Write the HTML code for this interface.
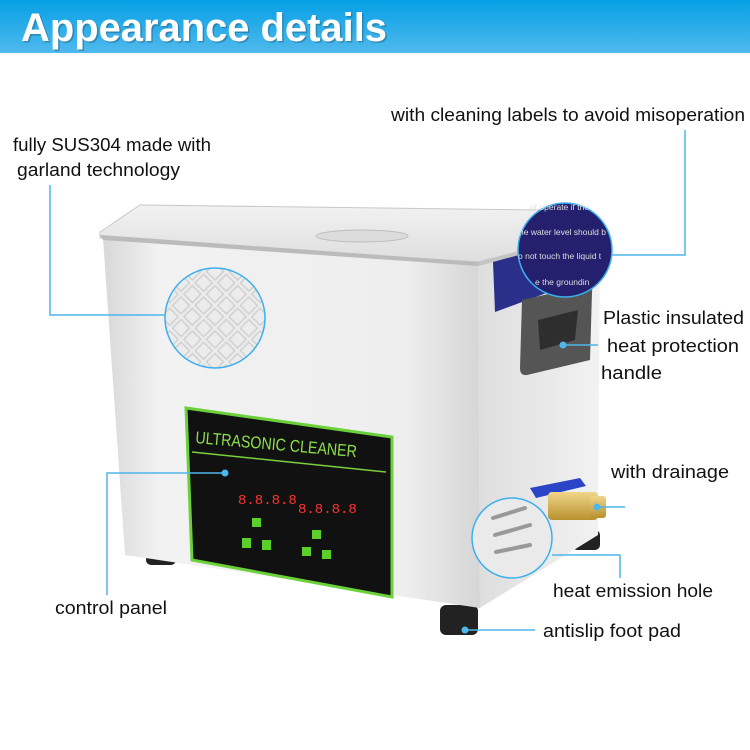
<!DOCTYPE html>
<html><head><meta charset="utf-8"><style>
html,body{margin:0;padding:0;background:#fff;}
svg{display:block;font-family:"Liberation Sans",sans-serif;}
</style></head><body>
<svg width="750" height="750" viewBox="0 0 750 750" xmlns="http://www.w3.org/2000/svg">
<defs>
<linearGradient id="hd" x1="0" y1="0" x2="0" y2="1"><stop offset="0" stop-color="#06a0e6"/><stop offset="1" stop-color="#4fb9ec"/></linearGradient>
<linearGradient id="front" x1="0" y1="0" x2="1" y2="0"><stop offset="0" stop-color="#d8d8d8"/><stop offset="0.15" stop-color="#f2f2f2"/><stop offset="0.8" stop-color="#eeeeee"/><stop offset="1" stop-color="#d6d6d6"/></linearGradient>
<linearGradient id="side" x1="0" y1="0" x2="1" y2="0"><stop offset="0" stop-color="#dedede"/><stop offset="1" stop-color="#f2f2f2"/></linearGradient>
<linearGradient id="lid" x1="0" y1="0" x2="0" y2="1"><stop offset="0" stop-color="#f2f2f2"/><stop offset="1" stop-color="#dedede"/></linearGradient>
<linearGradient id="brass" x1="0" y1="0" x2="0" y2="1"><stop offset="0" stop-color="#f0d68a"/><stop offset="1" stop-color="#b8912f"/></linearGradient>
<pattern id="dia" width="16" height="16" patternUnits="userSpaceOnUse" patternTransform="rotate(45)"><rect width="16" height="16" fill="#ececec"/><rect x="2" y="2" width="12" height="12" fill="none" stroke="#d0d0d0" stroke-width="1.5"/></pattern>
</defs>
<rect x="0" y="0" width="750" height="53" fill="url(#hd)"/>
<text x="21" y="41" font-size="40" font-weight="bold" fill="#2a5f80" opacity="0.5" transform="translate(1.5,1.5)" textLength="366" lengthAdjust="spacingAndGlyphs">Appearance details</text>
<text x="21" y="41" font-size="40" font-weight="bold" fill="#fff" textLength="366" lengthAdjust="spacingAndGlyphs">Appearance details</text>

<rect x="146" y="540" width="30" height="25" rx="5" fill="#222"/>
<rect x="440" y="605" width="38" height="30" rx="6" fill="#222"/>
<rect x="572" y="530" width="28" height="20" rx="5" fill="#222"/>
<polygon points="478,262 600,245 598,535 480,608" fill="url(#side)"/>
<polygon points="103,238 478,262 480,608 125,555" fill="url(#front)"/>
<polygon points="100,232 140,205 540,210 548,244 478,262 100,238" fill="url(#lid)" stroke="#c8c8c8"/>
<polygon points="100,235 478,262 478,266 103,240" fill="#bbb"/>
<polygon points="478,262 548,244 548,248 478,266" fill="#c4c4c4"/>
<ellipse cx="362" cy="236" rx="46" ry="6" fill="#dcdcdc" stroke="#bdbdbd"/>
<polygon points="493,262 530,252 560,288 495,312" fill="#2a2f8a"/>
<polygon points="186,408 392,437 392,597 192,560" fill="#111" stroke="#6ad13a" stroke-width="3"/>
<text x="195" y="443" font-size="17" fill="#8ee04a" transform="rotate(5 195 443)" textLength="162" lengthAdjust="spacingAndGlyphs">ULTRASONIC CLEANER</text>
<line x1="192" y1="452" x2="386" y2="472" stroke="#7ccf3c" stroke-width="1.5"/>
<text x="238" y="504" font-size="14" fill="#f33" font-family="Liberation Mono">8.8.8.8</text>
<text x="298" y="513" font-size="14" fill="#f33" font-family="Liberation Mono">8.8.8.8</text>
<rect x="252" y="518" width="9" height="9" fill="#5ad02a"/><rect x="242" y="538" width="9" height="10" fill="#5ad02a"/><rect x="262" y="540" width="9" height="10" fill="#5ad02a"/>
<rect x="312" y="530" width="9" height="9" fill="#5ad02a"/><rect x="302" y="547" width="9" height="9" fill="#5ad02a"/><rect x="322" y="550" width="9" height="9" fill="#5ad02a"/>
<path d="M522,300 L588,285 Q593,285 592,292 L590,360 L527,375 Q520,376 520,368 Z" fill="#555"/>
<path d="M538,320 L578,310 L575,340 L540,350 Z" fill="#2e2e2e"/>
<path d="M530,488 L580,478 L586,486 L536,498 Z" fill="#2b45c8"/>
<rect x="548" y="492" width="50" height="28" rx="4" fill="url(#brass)"/>
<rect x="590" y="496" width="16" height="22" rx="3" fill="url(#brass)"/>
<circle cx="215" cy="318" r="50" fill="url(#dia)" stroke="#3ab0ee" stroke-width="1.5"/>
<circle cx="565" cy="250" r="47" fill="#25206e" stroke="#3ab0ee" stroke-width="1.5"/>
<g font-size="8.5" fill="#ddd">
<text x="530" y="210">ot operate if the</text>
<text x="519" y="235">he water level should b</text>
<text x="518" y="259">o not touch the liquid t</text>
<text x="535" y="285">e the groundin</text>
</g>
<circle cx="512" cy="538" r="40" fill="#eaeaea" stroke="#3ab0ee" stroke-width="1.5"/>
<g stroke="#999" stroke-width="4" stroke-linecap="round"><line x1="493" y1="518" x2="525" y2="508"/><line x1="495" y1="535" x2="530" y2="525"/><line x1="496" y1="552" x2="530" y2="545"/></g>

<g stroke="#4fb6ea" stroke-width="1.5" fill="none">
<polyline points="165,315 50,315 50,185"/>
<polyline points="612,255 685,255 685,130"/>
<line x1="563" y1="345" x2="598" y2="345"/>
<line x1="597" y1="507" x2="625" y2="507"/>
<polyline points="552,555 620,555 620,578"/>
<polyline points="225,473 107,473 107,595"/>
<line x1="465" y1="630" x2="535" y2="630"/>
</g>
<g fill="#4fb6ea"><circle cx="225" cy="473" r="3.5"/><circle cx="563" cy="345" r="3.5"/><circle cx="597" cy="507" r="3.5"/><circle cx="465" cy="630" r="3.5"/></g>

<g font-size="18" fill="#111" lengthAdjust="spacingAndGlyphs">
<text x="391" y="121" textLength="354" lengthAdjust="spacingAndGlyphs">with cleaning labels to avoid misoperation</text>
<text x="13" y="151" textLength="198" lengthAdjust="spacingAndGlyphs">fully SUS304 made with</text>
<text x="17" y="176" textLength="163" lengthAdjust="spacingAndGlyphs">garland technology</text>
<text x="603" y="324" textLength="141" lengthAdjust="spacingAndGlyphs">Plastic insulated</text>
<text x="607" y="352" textLength="132" lengthAdjust="spacingAndGlyphs">heat protection</text>
<text x="601" y="379" textLength="61" lengthAdjust="spacingAndGlyphs">handle</text>
<text x="611" y="478" textLength="118" lengthAdjust="spacingAndGlyphs">with drainage</text>
<text x="553" y="597" textLength="160" lengthAdjust="spacingAndGlyphs">heat emission hole</text>
<text x="55" y="614" textLength="112" lengthAdjust="spacingAndGlyphs">control panel</text>
<text x="543" y="637" textLength="138" lengthAdjust="spacingAndGlyphs">antislip foot pad</text>
</g>
</svg>
</body></html>
